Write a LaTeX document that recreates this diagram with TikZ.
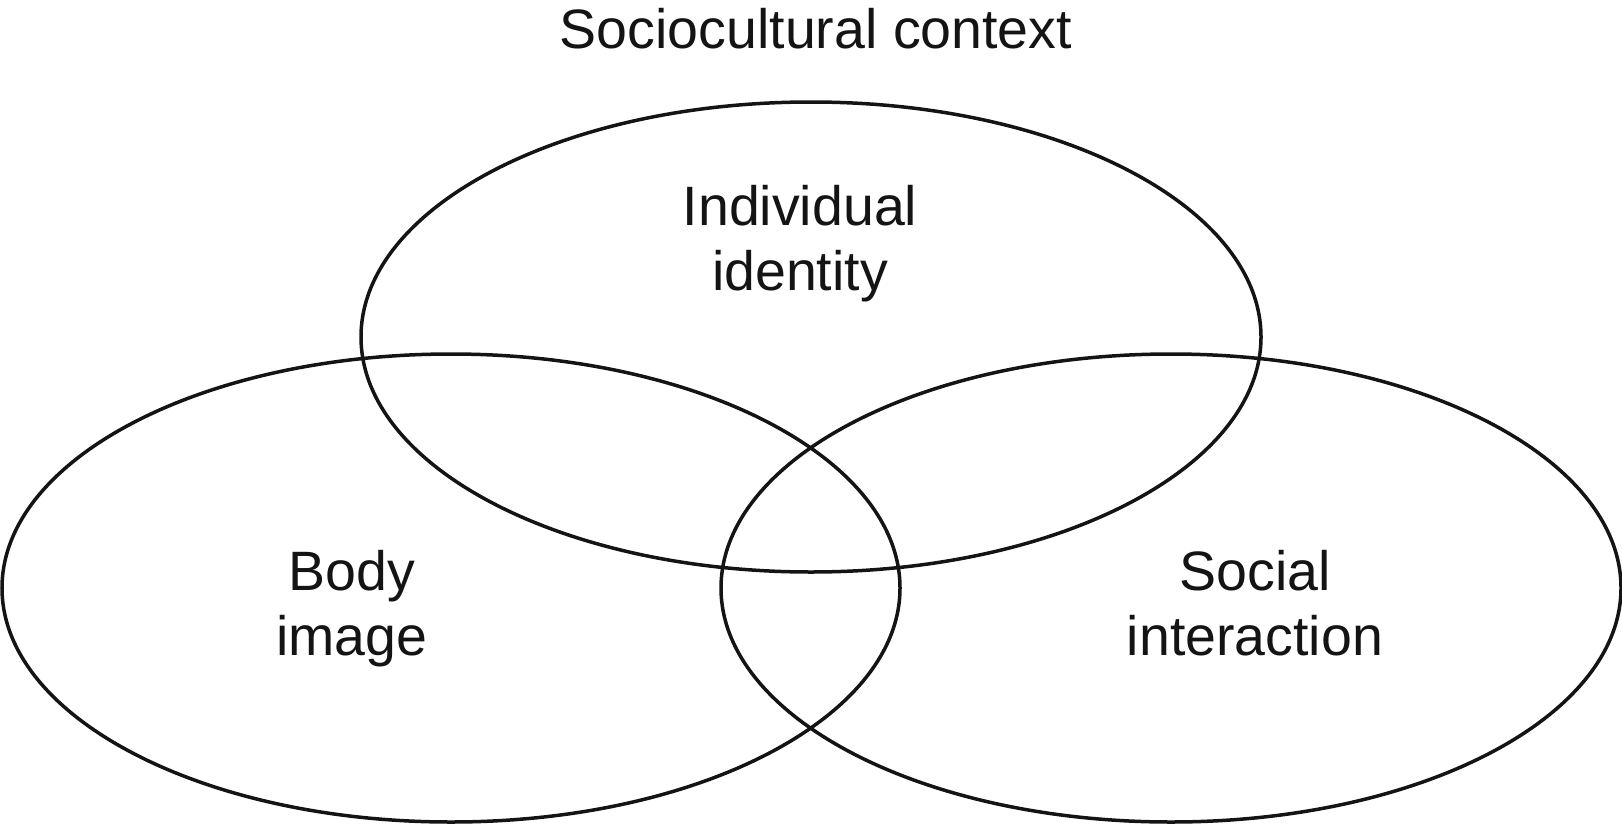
\documentclass[tikz,border=0pt]{standalone}
\usepackage{fontspec}
\setmainfont{Liberation Sans}
\begin{document}
\begin{tikzpicture}[x=1pt,y=-1pt,
  ring/.style={draw=black!92, line width=3.5pt},
  lbl/.style={font=\fontsize{55.5}{65}\selectfont, align=center, inner sep=0pt, anchor=base, text=black!92}]
\useasboundingbox (0,0) rectangle (1622,825);
\draw[ring] (811,337) ellipse [x radius=450, y radius=235];
\draw[ring] (451,588) ellipse [x radius=449, y radius=234];
\draw[ring] (1171,588) ellipse [x radius=450, y radius=234];
\node[lbl] (title) at (816,48) {Sociocultural context};
\node[lbl] (indiv) at (800,290) {Individual\\identity};
\node[lbl] (body) at (352,655) {Body\\image};
\node[lbl] (social) at (1255,655) {Social\\interaction};
\end{tikzpicture}
\end{document}
